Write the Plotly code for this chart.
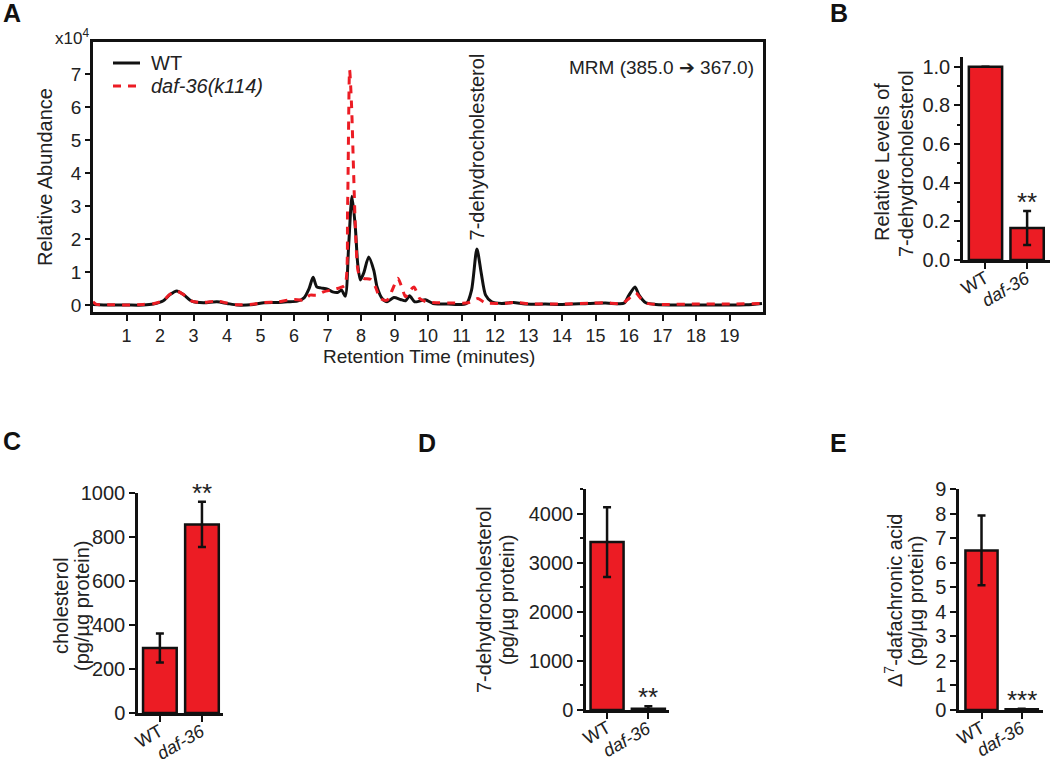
import plotly.graph_objects as go

FONT = "Liberation Sans, Arial, sans-serif"
RED = "#EC1C24"

# ---------------- Panel A: chromatogram (x10^4) ----------------
wt_time = [0.0, 0.5, 1.0, 1.5, 1.8, 2.1, 2.3, 2.5, 2.7, 2.95, 3.3, 3.7, 4.0, 4.3, 4.8, 5.1, 5.5, 5.8,
           6.1, 6.3, 6.45, 6.57, 6.68, 6.8, 7.0, 7.15, 7.3, 7.42, 7.53, 7.63, 7.73, 7.83, 7.9, 7.98,
           8.08, 8.23, 8.38, 8.48, 8.63, 8.78, 8.98, 9.18, 9.33, 9.45, 9.6, 9.75, 9.92, 10.15, 10.6,
           11.15, 11.3, 11.46, 11.59, 11.72, 11.9, 12.2, 12.55, 12.9, 13.5, 14.0, 14.8, 15.3, 15.7,
           15.86, 16.0, 16.18, 16.3, 16.5, 16.8, 17.5, 18.5, 19.5, 19.97]
wt_abund = [0.02, 0.0, 0.0, 0.0, 0.03, 0.13, 0.32, 0.43, 0.32, 0.12, 0.07, 0.1, 0.05, 0.0, 0.02, 0.07,
            0.08, 0.1, 0.12, 0.22, 0.5, 0.84, 0.55, 0.52, 0.48, 0.4, 0.38, 0.45, 0.27, 1.77, 3.3, 2.37,
            1.27, 0.76, 0.97, 1.46, 1.06, 0.55, 0.2, 0.1, 0.23, 0.17, 0.13, 0.28, 0.1, 0.12, 0.16, 0.05,
            0.03, 0.05, 0.45, 1.7, 0.96, 0.3, 0.1, 0.05, 0.08, 0.03, 0.03, 0.02, 0.05, 0.06, 0.04, 0.06,
            0.3, 0.55, 0.3, 0.07, 0.02, 0.0, 0.0, 0.01, 0.05]

mut_time = [0.0, 0.1, 0.5, 1.0, 1.5, 1.8, 2.1, 2.3, 2.5, 2.7, 2.95, 3.3, 3.7, 4.0, 4.3, 4.8, 5.1, 5.5,
            5.8, 6.0, 6.28, 6.48, 6.68, 6.88, 7.18, 7.38, 7.52, 7.6, 7.66, 7.72, 7.78, 7.85, 7.93, 8.08,
            8.28, 8.43, 8.58, 8.78, 8.93, 9.1, 9.23, 9.33, 9.45, 9.58, 9.75, 9.95, 10.3, 10.8, 11.2,
            11.49, 11.7, 12.2, 12.6, 13.0, 14.0, 14.9, 15.3, 15.8, 16.0, 16.2, 16.35, 16.55, 17.0, 18.0,
            19.0, 19.97]
mut_abund = [0.1, 0.02, 0.01, 0.0, 0.02, 0.04, 0.14, 0.33, 0.42, 0.32, 0.12, 0.08, 0.12, 0.06, 0.01,
             0.03, 0.08, 0.09, 0.15, 0.17, 0.15, 0.3, 0.3, 0.4, 0.47, 0.53, 0.6, 3.0, 7.12, 6.0, 4.0,
             1.9, 0.97, 0.81, 0.78, 0.55, 0.2, 0.15, 0.45, 0.81, 0.5, 0.25, 0.42, 0.55, 0.2, 0.1, 0.07,
             0.06, 0.07, 0.2, 0.07, 0.05, 0.08, 0.04, 0.03, 0.06, 0.07, 0.05, 0.2, 0.37, 0.2, 0.05, 0.02,
             0.03, 0.03, 0.05]

series_names = ["WT", "<i>daf-36(k114)</i>"]
a_xticks = list(range(1, 20))
a_yticks = list(range(0, 8))

# ---------------- Panels B-E: bar charts ----------------
genotypes = ["WT", "daf-36"]
genotype_labels = ["WT", "<i>daf-36</i>"]

b_values = [1.0, 0.165]
b_errors = [0.0, 0.088]
b_sig = "**"

c_values = [295, 857]
c_errors = [66, 103]
c_sig = "**"

d_values = [3420, 25]
d_errors = [710, 50]
d_sig = "**"

e_values = [6.5, 0.03]
e_errors = [1.42, 0.02]
e_sig = "***"

W, H = 1050, 761


def px(x):
    return x / W


def py(y):
    return 1 - y / H


TXT = "#222222"
BLK = "#111111"
DASH = "8px,7px"
fig = go.Figure()

fig.add_trace(go.Scatter(x=wt_time, y=wt_abund, mode="lines", name=series_names[0], showlegend=False,
                         line=dict(color=BLK, width=3, shape="spline", smoothing=0.7),
                         xaxis="x", yaxis="y"))
fig.add_trace(go.Scatter(x=mut_time, y=mut_abund, mode="lines", name=series_names[1], showlegend=False,
                         line=dict(color=RED, width=3, dash=DASH, shape="spline", smoothing=0.7),
                         xaxis="x", yaxis="y"))

bar_panels = [
    ("x2", "y2", b_values, b_errors, b_sig),
    ("x3", "y3", c_values, c_errors, c_sig),
    ("x4", "y4", d_values, d_errors, d_sig),
    ("x5", "y5", e_values, e_errors, e_sig),
]
for xa, ya, vals, errs, sig in bar_panels:
    fig.add_trace(go.Bar(x=genotypes, y=vals, width=0.8, showlegend=False,
                         marker=dict(color=RED, line=dict(color=BLK, width=2.5)),
                         error_y=dict(type="data", array=errs, visible=True, color=BLK,
                                      thickness=2.5, width=4),
                         xaxis=xa, yaxis=ya))

axis_common = dict(showline=True, linecolor=BLK, linewidth=2.5, ticks="outside",
                   tickcolor=BLK, tickwidth=2, showgrid=False, zeroline=False, automargin=False,
                   tickfont=dict(family=FONT, size=20, color=TXT))
cat_axis = dict(axis_common, ticklen=6, tickvals=genotypes, showticklabels=False)

layout = dict(
    width=W, height=H, margin=dict(l=0, r=0, t=0, b=0, pad=0, autoexpand=False),
    paper_bgcolor="white", plot_bgcolor="white",
    font=dict(family=FONT, color=TXT),
    showlegend=False,
    xaxis=dict(axis_common, domain=[px(93), px(763)], range=[0, 20], tickvals=a_xticks,
               ticklen=6, mirror=True, tickfont=dict(family=FONT, size=18, color=TXT),
               anchor="y"),
    yaxis=dict(axis_common, domain=[py(312), py(42)], range=[-0.21, 7.97], tickvals=a_yticks,
               ticklen=5, mirror=True, tickfont=dict(family=FONT, size=19, color=TXT),
               anchor="x"),
    xaxis2=dict(cat_axis, domain=[px(963), px(1050)], range=[-0.54, 1.55], anchor="y2"),
    yaxis2=dict(axis_common, domain=[py(260), py(57)], range=[0, 1.05], ticklen=6,
                tickvals=[0, 0.2, 0.4, 0.6, 0.8, 1.0], tickformat=".1f",
                minor=dict(ticks="outside", dtick=0.1, ticklen=3, tickwidth=2, tickcolor=BLK),
                anchor="x2"),
    xaxis3=dict(cat_axis, domain=[px(138), px(223)], range=[-0.52, 1.5], anchor="y3"),
    yaxis3=dict(axis_common, domain=[py(713), py(493)], range=[0, 1000], ticklen=6,
                tickvals=[0, 200, 400, 600, 800, 1000], anchor="x3"),
    xaxis4=dict(cat_axis, domain=[px(586), px(669)], range=[-0.51, 1.5], anchor="y4"),
    yaxis4=dict(axis_common, domain=[py(710), py(489)], range=[0, 4500], ticklen=6,
                tickvals=[0, 1000, 2000, 3000, 4000],
                minor=dict(ticks="outside", dtick=500, ticklen=3, tickwidth=2, tickcolor=BLK),
                anchor="x4"),
    xaxis5=dict(cat_axis, domain=[px(959), px(1043)], range=[-0.56, 1.53], anchor="y5"),
    yaxis5=dict(axis_common, domain=[py(710), py(489)], range=[0, 9], ticklen=6,
                tickvals=list(range(0, 10)), anchor="x5"),
)
fig.update_layout(**layout)

# legend of panel A (drawn manually for exact placement)
shapes = [
    dict(type="line", xref="paper", yref="paper", x0=px(113), x1=px(140), y0=py(63), y1=py(63),
         line=dict(color=BLK, width=3)),
    dict(type="line", xref="paper", yref="paper", x0=px(113), x1=px(140), y0=py(86), y1=py(86),
         line=dict(color=RED, width=3, dash=DASH)),
]
fig.update_layout(shapes=shapes)

ann = []
for name, y in zip(series_names, [63, 86]):
    ann.append(dict(text=name, x=px(149), y=py(y), xref="paper", yref="paper",
                    xanchor="left", yanchor="middle", showarrow=False,
                    font=dict(family=FONT, size=20, color=TXT)))
# panel letters
for letter, x, y in [("A", 12, 13), ("B", 839, 13), ("C", 12, 441), ("D", 427, 443), ("E", 838, 443)]:
    ann.append(dict(text=f"<b>{letter}</b>", x=px(x), y=py(y), xref="paper", yref="paper",
                    xanchor="center", yanchor="middle", showarrow=False,
                    font=dict(family=FONT, size=25, color=BLK)))
# panel A texts
ann.append(dict(text="x10<sup>4</sup>", x=px(91), y=py(37), xref="paper", yref="paper",
                xanchor="right", yanchor="middle", showarrow=False,
                font=dict(family=FONT, size=17, color=TXT)))
ann.append(dict(text="MRM (385.0 \u2794 367.0)", x=px(756), y=py(68), xref="paper", yref="paper",
                xanchor="right", yanchor="middle", showarrow=False,
                font=dict(family=FONT, size=19, color=TXT)))
ann.append(dict(text="7-dehydrocholesterol", x=11.45, y=1.9, xref="x", yref="y",
                xanchor="center", yanchor="bottom", textangle=-90, showarrow=False,
                font=dict(family=FONT, size=20, color=TXT)))
ann.append(dict(text="Relative Abundance", x=px(45), y=py(177), xref="paper", yref="paper",
                xanchor="center", yanchor="middle", textangle=-90, showarrow=False,
                font=dict(family=FONT, size=20, color=TXT)))
ann.append(dict(text="Retention Time (minutes)", x=px(429), y=py(356), xref="paper", yref="paper",
                xanchor="center", yanchor="middle", showarrow=False,
                font=dict(family=FONT, size=19, color=TXT)))
# bar panel y titles (one annotation per line for tighter line spacing)
title_lines = [
    ("Relative Levels of", 882, 162), ("7-dehydrocholesterol", 906, 164),
    ("cholesterol", 61, 606), ("(pg/\u00b5g protein)", 82, 606),
    ("7-dehydrocholesterol", 484, 600), ("(pg/\u00b5g protein)", 507, 600),
    ("\u0394<sup>7</sup>-dafachronic acid", 893, 601), ("(pg/\u00b5g protein)", 916, 601),
]
for text, x, y in title_lines:
    ann.append(dict(text=text, x=px(x), y=py(y), xref="paper", yref="paper",
                    xanchor="center", yanchor="middle", textangle=-90, showarrow=False,
                    font=dict(family=FONT, size=20, color=TXT)))
# rotated category labels and significance stars
for xa, ya, vals, errs, sig in bar_panels:
    for cat, label in zip(genotypes, genotype_labels):
        ann.append(dict(text=label, x=cat, y=0, xref=xa, yref=ya, xanchor="right", yanchor="top",
                        textangle=-30, showarrow=False, xshift=8, yshift=-6, borderpad=0,
                        font=dict(family=FONT, size=18, color=TXT)))
    ann.append(dict(text=sig, x=genotypes[1], y=vals[1] + errs[1], xref=xa, yref=ya,
                    xanchor="center", yanchor="bottom", showarrow=False, yshift=-8,
                    font=dict(family=FONT, size=26, color=TXT)))
fig.update_layout(annotations=ann)

fig.write_html("out.html", config={"displayModeBar": False},
               post_script="document.body.style.margin='0px';document.body.style.overflow='hidden';")
